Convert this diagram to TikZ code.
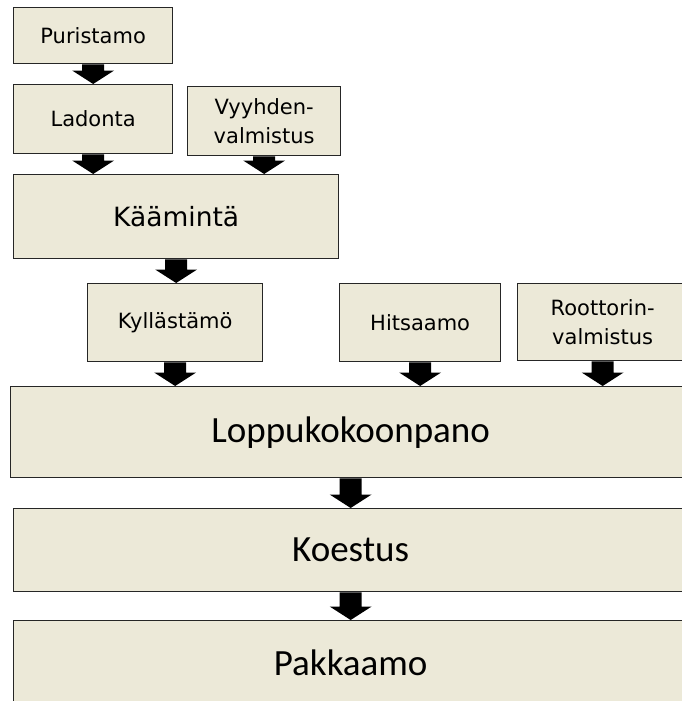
\documentclass[tikz,border=0pt]{standalone}
\usepackage{fontspec}
\setmainfont{DejaVu Sans}
\newfontfamily\calib{Carlito}
\usetikzlibrary{calc}
\definecolor{boxfill}{HTML}{ECE9D8}
\tikzset{
  box/.style={draw=black!85, line width=1.3pt, fill=boxfill, inner sep=0pt, anchor=north west, align=center},
  smalltext/.style={font=\fontsize{21}{28.5}\selectfont},
  midtext/.style={font=\fontsize{26.5}{30}\selectfont},
  bigtext/.style={font=\calib\fontsize{37}{40}\selectfont},
  arrowfill/.style={fill=black}
}
\newcommand\blockarr[2]{%
  \fill[arrowfill] let \p1=(#1.south), \p2=(#1.south |- #2.north) in
    (\x1-11pt,\y1) -- (\x1+11pt,\y1) -- (\x1+11pt,\y2+13.5pt) -- (\x1+21pt,\y2+13.5pt)
    -- (\x2,\y2) -- (\x1-21pt,\y2+13.5pt) -- (\x1-11pt,\y2+13.5pt) -- cycle;
}
\begin{document}
\begin{tikzpicture}[x=1pt,y=-1pt]
\useasboundingbox (0,0) rectangle (682,701);
\node[box, smalltext, minimum width=159pt, minimum height=56pt] (pur) at (13,7) {Puristamo};
\node[box, smalltext, minimum width=159pt, minimum height=69pt] (lad) at (13,84) {Ladonta};
\node[box, smalltext, minimum width=153pt, minimum height=69pt] (vyy) at (187,86) {Vyyhden-\\valmistus};
\node[box, midtext, minimum width=325pt, minimum height=84pt] (kaa) at (13,174) {Käämintä};
\node[box, smalltext, minimum width=175pt, minimum height=78pt] (kyl) at (87,283) {Kyllästämö};
\node[box, smalltext, minimum width=161pt, minimum height=78pt] (hit) at (339,283) {Hitsaamo};
\node[box, smalltext, minimum width=170pt, minimum height=77pt] (roo) at (517,283) {Roottorin-\\valmistus};
\node[box, bigtext, minimum width=680pt, minimum height=91pt] (lop) at (10,386) {Loppukokoonpano};
\node[box, bigtext, minimum width=674pt, minimum height=83pt] (koe) at (13,508) {Koestus};
\node[box, bigtext, minimum width=674pt, minimum height=84pt] (pak) at (13,620) {Pakkaamo};
\blockarr{pur}{lad}
\blockarr{lad}{kaa}
\blockarr{vyy}{kaa}
\blockarr{kaa}{kyl}
\blockarr{kyl}{lop}
\blockarr{hit}{lop}
\blockarr{roo}{lop}
\blockarr{lop}{koe}
\blockarr{koe}{pak}
\end{tikzpicture}
\end{document}
